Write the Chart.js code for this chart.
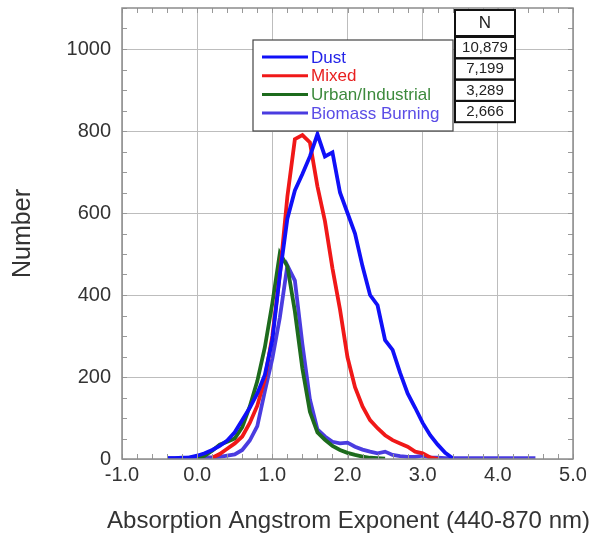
<!DOCTYPE html>
<html>
<head>
<meta charset="utf-8">
<script src="https://cdn.jsdelivr.net/npm/chart.js@4/dist/chart.umd.min.js"></script>
<style>
  html, body { margin: 0; padding: 0; background: #fff; }
  #wrap { width: 606px; height: 539px; }
</style>
</head>
<body>
<div id="wrap"><canvas id="aaeChart" width="606" height="539"></canvas></div>
<script>
// bin centres of the histogram (AAE 440-870 nm)
const binCenters = [-0.4, -0.3, -0.2, -0.1, 0.0, 0.1, 0.2, 0.3, 0.4, 0.5,
    0.6, 0.7, 0.8, 0.9, 1.0, 1.1, 1.2, 1.3, 1.4, 1.5,
    1.6, 1.7, 1.8, 1.9, 2.0, 2.1, 2.2, 2.3, 2.4, 2.5,
    2.6, 2.7, 2.8, 2.9, 3.0, 3.1, 3.2, 3.3, 3.4, 3.5,
    3.6, 3.7, 3.8, 3.9, 4.0, 4.1, 4.2, 4.3, 4.4, 4.5];

const dustCounts = [2, 2, 3, 4, 8, 14, 22, 32, 45, 65,
    95, 125, 160, 205, 290, 450, 586, 655, 695, 738,
    792, 738, 748, 650, 600, 550, 470, 400, 375, 290,
    266, 210, 160, 125, 88, 58, 35, 15, 2, null,
    null, null, null, null, null, null, null, null, null, null];

const mixedCounts = [null, null, null, null, null, null, 3, 12, 25, 38,
    55, 88, 130, 195, 300, 450, 640, 780, 790, 772,
    665, 580, 465, 365, 248, 175, 128, 95, 75, 58,
    46, 38, 30, 18, 14, 4, 0, null, null, null,
    null, null, null, null, null, null, null, null, null, null];

const urbanCounts = [null, null, null, null, 2, 8, 20, 35, 42, 50,
    78, 128, 190, 272, 380, 502, 470, 360, 220, 115,
    65, 47, 32, 22, 15, 10, 6, 3, 2, 1,
    null, null, null, null, null, null, null, null, null, null,
    null, null, null, null, null, null, null, null, null, null];

const biomassCounts = [2, 2, 2, 3, 3, 4, 4, 5, 8, 11,
    22, 45, 80, 165, 245, 345, 472, 435, 280, 145,
    72, 55, 42, 38, 40, 30, 23, 18, 14, 18,
    10, 7, 5, 5, 8, 4, 3, 2, 2, 2,
    2, 2, 2, 2, 2, 2, 2, 2, 2, 2];

const seriesNames = ['Dust', 'Mixed', 'Urban/Industrial', 'Biomass Burning'];
const seriesCounts = ['10,879', '7,199', '3,289', '2,666'];

const xTicks = [-1, 0, 1, 2, 3, 4, 5];
const yTicks = [0, 200, 400, 600, 800, 1000];
const xTitle = 'Absorption Angstrom Exponent (440-870 nm)';

const lineColors = ['#1010f8', '#f01818', '#1d6b1d', '#4a3ce0'];
const textColors = ['#2424e8', '#e82020', '#3d8a3d', '#5a4ce6'];

function toPoints(vals) {
    return binCenters.map((x, i) => ({ x: x, y: vals[i] }));
}

const FONT = '"Liberation Sans", Arial, Helvetica, sans-serif';

// frame, inner minor ticks, legend box, N table and the x title
// (x title drawn here: the built-in one gets squeezed to the plot width)
const decorPlugin = {
    id: 'decor',
    afterDraw(chart) {
        const ctx = chart.ctx;
        const a = chart.chartArea;
        const xs = chart.scales.x, ys = chart.scales.y;
        ctx.save();
        // minor ticks
        ctx.strokeStyle = '#999';
        ctx.lineWidth = 1;
        ctx.beginPath();
        for (let v = -1; v <= 5.001; v += 0.2) {
            const px = Math.round(xs.getPixelForValue(v)) + 0.5;
            ctx.moveTo(px, a.bottom); ctx.lineTo(px, a.bottom - 5);
            ctx.moveTo(px, a.top); ctx.lineTo(px, a.top + 5);
        }
        for (let v = 0; v <= 1100; v += 50) {
            const py = Math.round(ys.getPixelForValue(v)) + 0.5;
            ctx.moveTo(a.left, py); ctx.lineTo(a.left + 5, py);
            ctx.moveTo(a.right, py); ctx.lineTo(a.right - 5, py);
        }
        ctx.stroke();
        // frame
        ctx.strokeStyle = '#8c8c8c';
        ctx.lineWidth = 1.5;
        ctx.strokeRect(a.left, a.top, a.right - a.left, a.bottom - a.top);

        // x title
        ctx.fillStyle = '#333';
        ctx.font = '24px ' + FONT;
        ctx.textAlign = 'center';
        ctx.textBaseline = 'middle';
        ctx.fillText(xTitle, (a.left + a.right) / 2 + 1, 521);

        // legend
        const lx = 253, ly = 40, lw = 200, lh = 91;
        ctx.fillStyle = '#fff';
        ctx.fillRect(lx, ly, lw, lh);
        ctx.strokeStyle = '#444';
        ctx.lineWidth = 1.2;
        ctx.strokeRect(lx, ly, lw, lh);
        ctx.font = '17px ' + FONT;
        ctx.textAlign = 'left';
        chart.data.datasets.forEach((ds, i) => {
            const y = 57 + i * 18.7;
            ctx.strokeStyle = ds.borderColor;
            ctx.lineWidth = 3;
            ctx.beginPath();
            ctx.moveTo(262, y); ctx.lineTo(308, y);
            ctx.stroke();
            ctx.fillStyle = textColors[i];
            ctx.fillText(ds.label, 311, y + 1);
        });

        // N table
        const tx = 455, tw = 60;
        ctx.fillStyle = '#fff';
        ctx.fillRect(tx, 10, tw, 112);
        ctx.strokeStyle = '#111';
        ctx.lineWidth = 2;
        ctx.strokeRect(tx, 10, tw, 26);
        ctx.fillStyle = '#222';
        ctx.textAlign = 'center';
        ctx.font = '17px ' + FONT;
        ctx.fillText('N', tx + tw / 2, 23);
        ctx.font = '15px ' + FONT;
        seriesCounts.forEach((n, i) => {
            const ry = 37 + i * 21.3;
            ctx.strokeRect(tx, ry, tw, 21.3);
            ctx.fillText(n, tx + tw / 2, ry + 11);
        });
        ctx.restore();
    }
};

document.addEventListener('DOMContentLoaded', function () {
    const ctx = document.getElementById('aaeChart').getContext('2d');
    const datasets = [dustCounts, mixedCounts, urbanCounts, biomassCounts].map((vals, i) => ({
        label: seriesNames[i],
        data: toPoints(vals),
        borderColor: lineColors[i],
        backgroundColor: lineColors[i],
        borderWidth: 3.8,
        pointRadius: 0,
        tension: 0,
        spanGaps: false
    }));

    new Chart(ctx, {
        type: 'line',
        data: { datasets: datasets },
        options: {
            responsive: false,
            animation: false,
            layout: { padding: { left: 0, right: 33, top: 8, bottom: 0 } },
            plugins: {
                legend: { display: false },
                tooltip: { enabled: false }
            },
            scales: {
                x: {
                    type: 'linear',
                    min: -1, max: 5,
                    afterBuildTicks: s => { s.ticks = xTicks.map(v => ({ value: v })); },
                    afterFit: s => { s.height = 80; s.paddingLeft = 0; s.paddingRight = 0; },
                    grid: { color: '#bdbdbd', lineWidth: 1, drawTicks: false },
                    border: { display: false },
                    ticks: {
                        padding: 4,
                        color: '#333',
                        font: { family: FONT, size: 20 },
                        callback: v => v.toFixed(1)
                    },
                    title: { display: false }
                },
                y: {
                    type: 'linear',
                    min: 0, max: 1100,
                    afterBuildTicks: s => { s.ticks = yTicks.map(v => ({ value: v })); },
                    afterFit: s => { s.width = 122; s.paddingTop = 0; s.paddingBottom = 0; },
                    grid: { color: '#bdbdbd', lineWidth: 1, drawTicks: false },
                    border: { display: false },
                    ticks: {
                        padding: 11,
                        color: '#333',
                        font: { family: FONT, size: 20 },
                        callback: v => String(v)
                    },
                    title: {
                        display: true,
                        text: 'Number',
                        color: '#333',
                        font: { family: FONT, size: 25 },
                        padding: { top: 8, bottom: 0 }
                    }
                }
            }
        },
        plugins: [decorPlugin]
    });
});
</script>
</body>
</html>
